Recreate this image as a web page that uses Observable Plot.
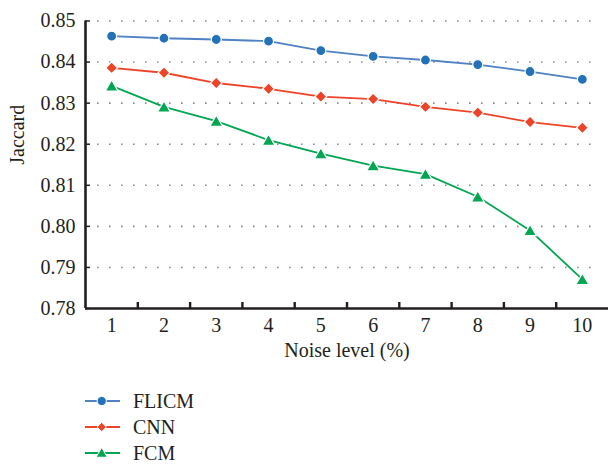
<!DOCTYPE html>
<html><head><meta charset="utf-8">
<script src="https://cdn.jsdelivr.net/npm/d3@7"></script>
<script src="https://cdn.jsdelivr.net/npm/@observablehq/plot@0.6"></script>
<style>
body{margin:0;background:#fff;font-family:"Liberation Serif",serif;color:#231f20;}
#wrap{position:relative;width:608px;height:465px;overflow:hidden;}
#legend{position:absolute;left:0;top:388px;width:300px;}
.row{position:relative;height:26px;}
.row svg{position:absolute;left:83px;top:0;}
.row span{position:absolute;left:133px;top:0;line-height:26px;font-size:20px;}
</style></head><body><div id="wrap"><div id="chart"></div><div id="legend"></div></div>
<script>
const noiseLevels = [1, 2, 3, 4, 5, 6, 7, 8, 9, 10];
const seriesNames = ["FLICM", "CNN", "FCM"];
const flicm = [0.8463, 0.8458, 0.8455, 0.8451, 0.8428, 0.8414, 0.8405, 0.8394, 0.8377, 0.8358];
const cnn   = [0.8386, 0.8374, 0.8349, 0.8335, 0.8316, 0.8310, 0.8291, 0.8277, 0.8254, 0.8240];
const fcm   = [0.8342, 0.8291, 0.8256, 0.8210, 0.8177, 0.8148, 0.8127, 0.8072, 0.7990, 0.7871];
const yTicks = [0.78, 0.79, 0.80, 0.81, 0.82, 0.83, 0.84, 0.85];
const gridTicks = [0.79, 0.80, 0.81, 0.82, 0.83, 0.84, 0.85];
const xBoundaries = [1.5, 2.5, 3.5, 4.5, 5.5, 6.5, 7.5, 8.5, 9.5];
const xLabel = "Noise level (%)";
const yLabel = "Jaccard";

const lineColors = ["#4f81c4", "#ee4327", "#00a651"];
const markerColors = ["#2271b9", "#ee4327", "#00a651"];
const symbols = ["circle", "diamond2", "triangle"];
const radii = [5, 5.3, 4.8];
const dys = [0, 0, 1.5];

const W = 608, H = 375, mt = 20.5, mb = 67, ml = 85, mr = 0;
const plotW = W - ml - mr, plotH = H - mt - mb;
const axisColor = "#231f20";

const allValues = [flicm, cnn, fcm];
const series = seriesNames.map((name, s) => noiseLevels.map((x, i) => ({x, y: allValues[s][i], name})));

const marks = [
  Plot.ruleY(gridTicks, {y: d => d, stroke: "#8c8c8c", strokeWidth: 1.6, strokeDasharray: "1.6,10.4", insetLeft: 12, insetRight: 8}),
];
series.forEach((data, s) => {
  marks.push(Plot.line(data, {x: "x", y: "y", stroke: lineColors[s], strokeWidth: 1.8}));
});
series.forEach((data, s) => {
  marks.push(Plot.dot(data, {x: "x", y: "y", symbol: () => symbols[s], fill: markerColors[s], stroke: "white", strokeWidth: 1.2, r: radii[s], dy: dys[s]}));
});
marks.push(
  Plot.tickY(yTicks, {y: d => d, stroke: axisColor, strokeWidth: 1.5, insetRight: plotW - 5}),
  Plot.tickX(xBoundaries, {x: d => d, stroke: axisColor, strokeWidth: 2.4, insetTop: plotH - 6}),
  Plot.ruleX([0.5], {x: d => d, stroke: axisColor, strokeWidth: 2.6}),
  Plot.ruleY([0.78], {y: d => d, stroke: axisColor, strokeWidth: 2.6}),
  Plot.axisY(yTicks, {tickSize: 0, tickPadding: 10, tickFormat: d3.format(".2f"), label: null}),
  Plot.axisX(noiseLevels, {tickSize: 0, tickPadding: 9, tickFormat: d => String(d), label: null}),
  Plot.text([xLabel], {text: d => d, frameAnchor: "bottom", dy: 48.5, fill: axisColor}),
  Plot.text([yLabel], {text: d => d, frameAnchor: "left", dx: -68, rotate: -90, fill: axisColor})
);

const chart = Plot.plot({
  width: W, height: H,
  marginTop: mt, marginBottom: mb, marginLeft: ml, marginRight: mr,
  style: {fontFamily: '"Liberation Serif", serif', fontSize: "20px", color: axisColor, background: "white", overflow: "visible"},
  x: {type: "linear", domain: [0.5, 10.5]},
  y: {type: "linear", domain: [0.78, 0.85]},
  symbol: {type: "identity"},
  marks
});
document.getElementById("chart").appendChild(chart);

// legend
const legend = d3.select("#legend");
const legendR = [4.6, 4.2, 4.2];
seriesNames.forEach((name, s) => {
  const row = legend.append("div").attr("class", "row");
  const svg = row.append("svg").attr("width", 40).attr("height", 26);
  svg.append("line").attr("x1", 2).attr("x2", 37).attr("y1", 13).attr("y2", 13)
    .attr("stroke", lineColors[s]).attr("stroke-width", 1.8);
  const sym = [d3.symbolCircle, d3.symbolDiamond2, d3.symbolTriangle][s];
  svg.append("path").attr("d", d3.symbol(sym, Math.PI * legendR[s] * legendR[s])())
    .attr("transform", `translate(18.7,${13 + (s === 2 ? 1 : 0)})`)
    .attr("fill", markerColors[s]).attr("stroke", "white").attr("stroke-width", 1);
  row.append("span").text(name);
});
</script>
</body></html>
